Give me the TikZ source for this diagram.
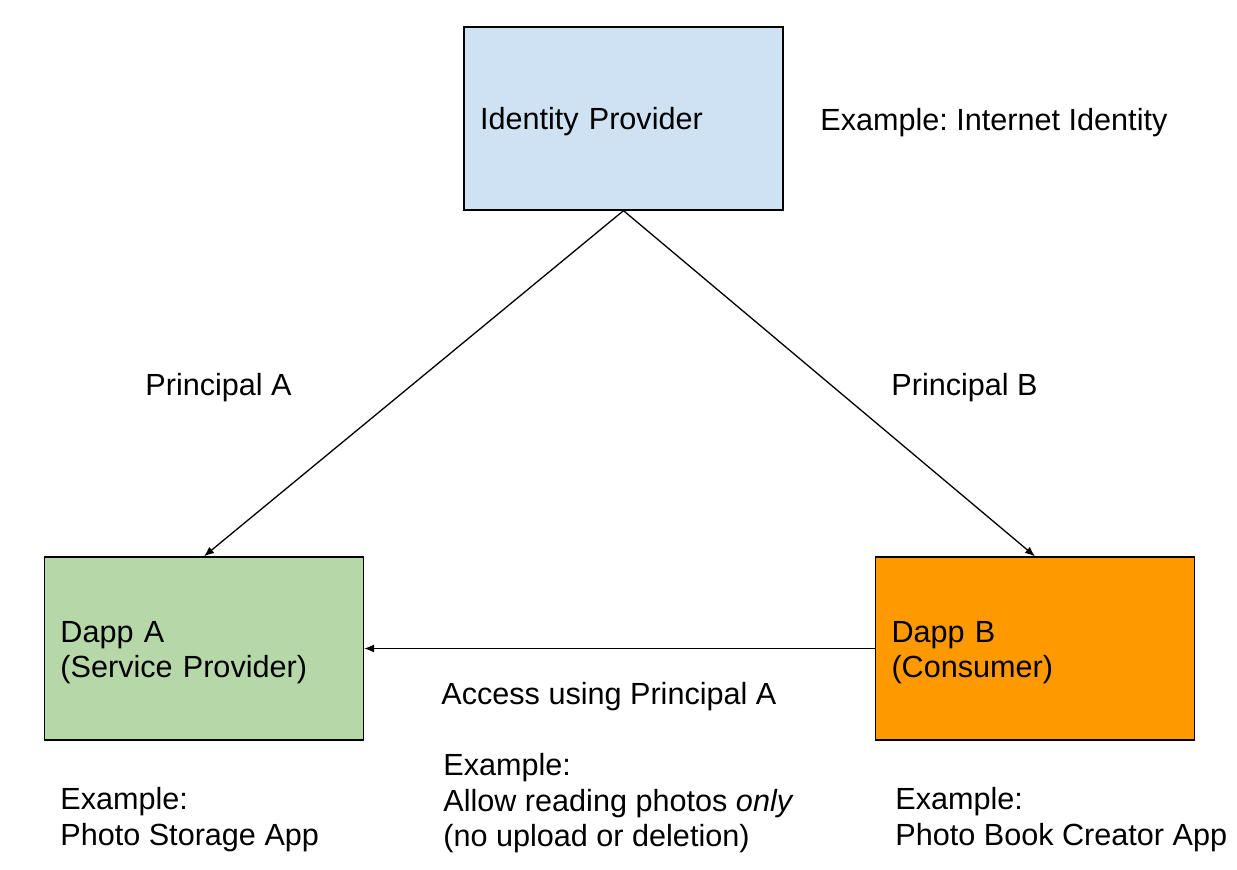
\documentclass[tikz,border=0pt]{standalone}
\usepackage{fontspec}
\setmainfont{Liberation Sans}
\usetikzlibrary{arrows.meta,positioning}
\definecolor{IdpBlue}{HTML}{CFE2F3}
\definecolor{DappGreen}{HTML}{B6D7A8}
\definecolor{DappOrange}{HTML}{FF9900}
\tikzset{
  dappbox/.style={draw=black,line width=0.65pt,align=left,
    text width=143.5pt,inner xsep=8pt,inner ysep=0pt,text depth=17pt,
    minimum height=91.5pt,font=\fontsize{15.3}{17.75}\selectfont},
  note/.style={anchor=west,align=left,inner sep=0pt,text depth=0pt,
    font=\fontsize{15.3}{17.75}\selectfont},
  flow/.style={-{Latex[length=5pt,width=4pt]},line width=0.65pt}
}
\frenchspacing

\begin{document}
\begin{tikzpicture}[x=0.5pt,y=-0.5pt]
        \useasboundingbox (0,0) rectangle (1237,869);

        % boxes
        \node[dappbox,fill=IdpBlue,text depth=0pt] (idp)
          at (623.5,118.5) {Identity Provider};
        \node[dappbox,fill=DappGreen] (dappA)
          at (204,648.5) {Dapp A\\(Service Provider)};
        \node[dappbox,fill=DappOrange] (dappB)
          at (1035,648.5) {Dapp B\\(Consumer)};

        % connectors
        \draw[flow] (idp.south) -- (dappA.north);
        \draw[flow] (idp.south) -- (dappB.north);
        \draw[flow] (dappB.west) -- (dappA.east);

        % labels
        \node[note] (idpex) at (820,119) {Example: Internet Identity};
        \node[note] (prinA) at (145,384) {Principal A};
        \node[note] (prinB) at (891,384) {Principal B};
        \node[note] (access) at (441,693) {Access using Principal A};
        \node[note] (accessex) at (443,800)
          {Example:\\Allow reading photos \textit{only}\\(no upload or deletion)};
        \node[note] (dappAex) at (60,816.5)
          {Example:\\Photo Storage App};
        \node[note] (dappBex) at (895,816.5)
          {Example:\\Photo Book Creator App};
      \end{tikzpicture}
\end{document}
